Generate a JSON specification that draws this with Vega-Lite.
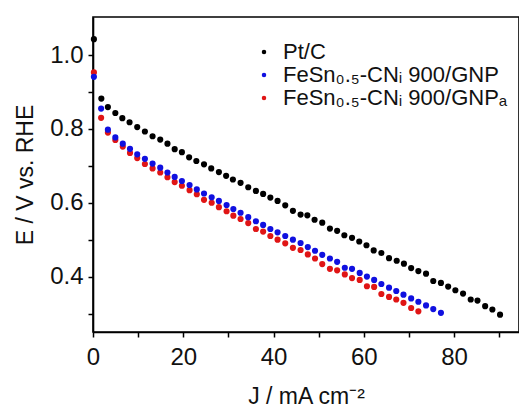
{
  "$schema": "https://vega.github.io/schema/vega-lite/v6.json",
  "width": 426,
  "height": 315,
  "autosize": {"type": "none"},
  "padding": {"left": 93, "top": 17, "right": 0, "bottom": 78},
  "background": "white",
  "config": {
    "font": "Liberation Sans",
    "view": {"stroke": "black", "strokeWidth": 1.6},
    "axis": {
      "domainColor": "black", "domainWidth": 1.6, "tickColor": "black", "tickWidth": 1.5, "tickSize": 5,
      "labelFont": "Liberation Sans", "labelFontSize": 24, "labelColor": "#111", "grid": false,
      "titleFont": "Liberation Sans", "titleFontSize": 23, "titleFontWeight": "normal", "titleColor": "#111"
    },
    "legend": {"labelFont": "Liberation Sans", "labelFontSize": 22, "labelColor": "#111", "labelLimit": 0}
  },
  "datasets": {
    "pts": [
      {"s":"Pt/C","J":0.2,"E":1.043},{"s":"Pt/C","J":1.85,"E":0.882},{"s":"Pt/C","J":3.3,"E":0.859},{"s":"Pt/C","J":4.95,"E":0.843},{"s":"Pt/C","J":6.5,"E":0.829},{"s":"Pt/C","J":8.1,"E":0.818},{"s":"Pt/C","J":9.8,"E":0.805},{"s":"Pt/C","J":11.5,"E":0.793},{"s":"Pt/C","J":13.2,"E":0.78},{"s":"Pt/C","J":14.9,"E":0.771},{"s":"Pt/C","J":16.5,"E":0.76},{"s":"Pt/C","J":18.1,"E":0.745},{"s":"Pt/C","J":19.7,"E":0.737},{"s":"Pt/C","J":21.3,"E":0.723},{"s":"Pt/C","J":22.9,"E":0.713},{"s":"Pt/C","J":24.6,"E":0.704},{"s":"Pt/C","J":26.2,"E":0.693},{"s":"Pt/C","J":27.9,"E":0.683},{"s":"Pt/C","J":29.5,"E":0.673},{"s":"Pt/C","J":31.0,"E":0.663},{"s":"Pt/C","J":32.7,"E":0.654},{"s":"Pt/C","J":34.4,"E":0.642},{"s":"Pt/C","J":36.1,"E":0.632},{"s":"Pt/C","J":37.7,"E":0.624},{"s":"Pt/C","J":39.3,"E":0.614},{"s":"Pt/C","J":40.9,"E":0.605},{"s":"Pt/C","J":42.6,"E":0.593},{"s":"Pt/C","J":44.3,"E":0.578},{"s":"Pt/C","J":46.0,"E":0.568},{"s":"Pt/C","J":47.5,"E":0.566},{"s":"Pt/C","J":49.1,"E":0.554},{"s":"Pt/C","J":50.8,"E":0.546},{"s":"Pt/C","J":52.5,"E":0.53},{"s":"Pt/C","J":54.1,"E":0.524},{"s":"Pt/C","J":55.7,"E":0.512},{"s":"Pt/C","J":57.4,"E":0.505},{"s":"Pt/C","J":59.0,"E":0.495},{"s":"Pt/C","J":60.6,"E":0.485},{"s":"Pt/C","J":62.2,"E":0.471},{"s":"Pt/C","J":63.9,"E":0.464},{"s":"Pt/C","J":65.6,"E":0.45},{"s":"Pt/C","J":67.3,"E":0.443},{"s":"Pt/C","J":68.9,"E":0.435},{"s":"Pt/C","J":70.5,"E":0.423},{"s":"Pt/C","J":72.1,"E":0.415},{"s":"Pt/C","J":73.8,"E":0.408},{"s":"Pt/C","J":75.4,"E":0.388},{"s":"Pt/C","J":77.1,"E":0.383},{"s":"Pt/C","J":78.7,"E":0.373},{"s":"Pt/C","J":80.3,"E":0.363},{"s":"Pt/C","J":82.0,"E":0.354},{"s":"Pt/C","J":83.7,"E":0.338},{"s":"Pt/C","J":85.2,"E":0.335},{"s":"Pt/C","J":86.9,"E":0.32},{"s":"Pt/C","J":88.5,"E":0.311},{"s":"Pt/C","J":90.2,"E":0.297},
      {"s":"FeSn₀.₅-CNᵢ 900/GNPₐ","J":0.2,"E":0.953},{"s":"FeSn₀.₅-CNᵢ 900/GNPₐ","J":1.8,"E":0.83},{"s":"FeSn₀.₅-CNᵢ 900/GNPₐ","J":3.3,"E":0.79},{"s":"FeSn₀.₅-CNᵢ 900/GNPₐ","J":4.95,"E":0.77},{"s":"FeSn₀.₅-CNᵢ 900/GNPₐ","J":6.6,"E":0.752},{"s":"FeSn₀.₅-CNᵢ 900/GNPₐ","J":8.2,"E":0.735},{"s":"FeSn₀.₅-CNᵢ 900/GNPₐ","J":9.8,"E":0.721},{"s":"FeSn₀.₅-CNᵢ 900/GNPₐ","J":11.5,"E":0.705},{"s":"FeSn₀.₅-CNᵢ 900/GNPₐ","J":13.2,"E":0.693},{"s":"FeSn₀.₅-CNᵢ 900/GNPₐ","J":14.9,"E":0.682},{"s":"FeSn₀.₅-CNᵢ 900/GNPₐ","J":16.5,"E":0.669},{"s":"FeSn₀.₅-CNᵢ 900/GNPₐ","J":18.1,"E":0.656},{"s":"FeSn₀.₅-CNᵢ 900/GNPₐ","J":19.7,"E":0.646},{"s":"FeSn₀.₅-CNᵢ 900/GNPₐ","J":21.4,"E":0.634},{"s":"FeSn₀.₅-CNᵢ 900/GNPₐ","J":23.0,"E":0.623},{"s":"FeSn₀.₅-CNᵢ 900/GNPₐ","J":24.6,"E":0.608},{"s":"FeSn₀.₅-CNᵢ 900/GNPₐ","J":26.3,"E":0.6},{"s":"FeSn₀.₅-CNᵢ 900/GNPₐ","J":27.9,"E":0.588},{"s":"FeSn₀.₅-CNᵢ 900/GNPₐ","J":29.6,"E":0.577},{"s":"FeSn₀.₅-CNᵢ 900/GNPₐ","J":31.1,"E":0.565},{"s":"FeSn₀.₅-CNᵢ 900/GNPₐ","J":32.7,"E":0.556},{"s":"FeSn₀.₅-CNᵢ 900/GNPₐ","J":34.4,"E":0.545},{"s":"FeSn₀.₅-CNᵢ 900/GNPₐ","J":36.1,"E":0.529},{"s":"FeSn₀.₅-CNᵢ 900/GNPₐ","J":37.7,"E":0.522},{"s":"FeSn₀.₅-CNᵢ 900/GNPₐ","J":39.3,"E":0.51},{"s":"FeSn₀.₅-CNᵢ 900/GNPₐ","J":40.9,"E":0.5},{"s":"FeSn₀.₅-CNᵢ 900/GNPₐ","J":42.6,"E":0.49},{"s":"FeSn₀.₅-CNᵢ 900/GNPₐ","J":44.3,"E":0.478},{"s":"FeSn₀.₅-CNᵢ 900/GNPₐ","J":46.0,"E":0.472},{"s":"FeSn₀.₅-CNᵢ 900/GNPₐ","J":47.6,"E":0.46},{"s":"FeSn₀.₅-CNᵢ 900/GNPₐ","J":49.2,"E":0.449},{"s":"FeSn₀.₅-CNᵢ 900/GNPₐ","J":50.8,"E":0.434},{"s":"FeSn₀.₅-CNᵢ 900/GNPₐ","J":52.5,"E":0.421},{"s":"FeSn₀.₅-CNᵢ 900/GNPₐ","J":54.1,"E":0.417},{"s":"FeSn₀.₅-CNᵢ 900/GNPₐ","J":55.8,"E":0.406},{"s":"FeSn₀.₅-CNᵢ 900/GNPₐ","J":57.4,"E":0.396},{"s":"FeSn₀.₅-CNᵢ 900/GNPₐ","J":59.1,"E":0.391},{"s":"FeSn₀.₅-CNᵢ 900/GNPₐ","J":60.7,"E":0.374},{"s":"FeSn₀.₅-CNᵢ 900/GNPₐ","J":62.3,"E":0.372},{"s":"FeSn₀.₅-CNᵢ 900/GNPₐ","J":63.9,"E":0.353},{"s":"FeSn₀.₅-CNᵢ 900/GNPₐ","J":65.6,"E":0.345},{"s":"FeSn₀.₅-CNᵢ 900/GNPₐ","J":67.2,"E":0.338},{"s":"FeSn₀.₅-CNᵢ 900/GNPₐ","J":68.8,"E":0.329},{"s":"FeSn₀.₅-CNᵢ 900/GNPₐ","J":70.5,"E":0.315},{"s":"FeSn₀.₅-CNᵢ 900/GNPₐ","J":72.1,"E":0.306},
      {"s":"FeSn₀.₅-CNᵢ 900/GNP","J":0.2,"E":0.941},{"s":"FeSn₀.₅-CNᵢ 900/GNP","J":1.8,"E":0.855},{"s":"FeSn₀.₅-CNᵢ 900/GNP","J":3.3,"E":0.798},{"s":"FeSn₀.₅-CNᵢ 900/GNP","J":4.95,"E":0.777},{"s":"FeSn₀.₅-CNᵢ 900/GNP","J":6.6,"E":0.76},{"s":"FeSn₀.₅-CNᵢ 900/GNP","J":8.2,"E":0.746},{"s":"FeSn₀.₅-CNᵢ 900/GNP","J":9.8,"E":0.731},{"s":"FeSn₀.₅-CNᵢ 900/GNP","J":11.5,"E":0.719},{"s":"FeSn₀.₅-CNᵢ 900/GNP","J":13.2,"E":0.706},{"s":"FeSn₀.₅-CNᵢ 900/GNP","J":14.9,"E":0.695},{"s":"FeSn₀.₅-CNᵢ 900/GNP","J":16.5,"E":0.682},{"s":"FeSn₀.₅-CNᵢ 900/GNP","J":18.1,"E":0.67},{"s":"FeSn₀.₅-CNᵢ 900/GNP","J":19.7,"E":0.659},{"s":"FeSn₀.₅-CNᵢ 900/GNP","J":21.4,"E":0.648},{"s":"FeSn₀.₅-CNᵢ 900/GNP","J":23.0,"E":0.636},{"s":"FeSn₀.₅-CNᵢ 900/GNP","J":24.6,"E":0.625},{"s":"FeSn₀.₅-CNᵢ 900/GNP","J":26.3,"E":0.615},{"s":"FeSn₀.₅-CNᵢ 900/GNP","J":27.9,"E":0.605},{"s":"FeSn₀.₅-CNᵢ 900/GNP","J":29.6,"E":0.594},{"s":"FeSn₀.₅-CNᵢ 900/GNP","J":31.1,"E":0.583},{"s":"FeSn₀.₅-CNᵢ 900/GNP","J":32.7,"E":0.573},{"s":"FeSn₀.₅-CNᵢ 900/GNP","J":34.4,"E":0.561},{"s":"FeSn₀.₅-CNᵢ 900/GNP","J":36.1,"E":0.55},{"s":"FeSn₀.₅-CNᵢ 900/GNP","J":37.7,"E":0.54},{"s":"FeSn₀.₅-CNᵢ 900/GNP","J":39.3,"E":0.529},{"s":"FeSn₀.₅-CNᵢ 900/GNP","J":40.9,"E":0.52},{"s":"FeSn₀.₅-CNᵢ 900/GNP","J":42.6,"E":0.51},{"s":"FeSn₀.₅-CNᵢ 900/GNP","J":44.3,"E":0.5},{"s":"FeSn₀.₅-CNᵢ 900/GNP","J":46.0,"E":0.491},{"s":"FeSn₀.₅-CNᵢ 900/GNP","J":47.6,"E":0.48},{"s":"FeSn₀.₅-CNᵢ 900/GNP","J":49.2,"E":0.47},{"s":"FeSn₀.₅-CNᵢ 900/GNP","J":50.8,"E":0.459},{"s":"FeSn₀.₅-CNᵢ 900/GNP","J":52.5,"E":0.449},{"s":"FeSn₀.₅-CNᵢ 900/GNP","J":54.1,"E":0.44},{"s":"FeSn₀.₅-CNᵢ 900/GNP","J":55.8,"E":0.424},{"s":"FeSn₀.₅-CNᵢ 900/GNP","J":57.4,"E":0.421},{"s":"FeSn₀.₅-CNᵢ 900/GNP","J":59.1,"E":0.41},{"s":"FeSn₀.₅-CNᵢ 900/GNP","J":60.7,"E":0.4},{"s":"FeSn₀.₅-CNᵢ 900/GNP","J":62.3,"E":0.391},{"s":"FeSn₀.₅-CNᵢ 900/GNP","J":63.9,"E":0.38},{"s":"FeSn₀.₅-CNᵢ 900/GNP","J":65.6,"E":0.37},{"s":"FeSn₀.₅-CNᵢ 900/GNP","J":67.2,"E":0.361},{"s":"FeSn₀.₅-CNᵢ 900/GNP","J":68.8,"E":0.351},{"s":"FeSn₀.₅-CNᵢ 900/GNP","J":70.5,"E":0.341},{"s":"FeSn₀.₅-CNᵢ 900/GNP","J":72.1,"E":0.332},{"s":"FeSn₀.₅-CNᵢ 900/GNP","J":73.8,"E":0.322},{"s":"FeSn₀.₅-CNᵢ 900/GNP","J":75.4,"E":0.312},{"s":"FeSn₀.₅-CNᵢ 900/GNP","J":77.1,"E":0.302}
    ]
  },
  "data": {"name": "pts"},
  "mark": {"type": "circle", "size": 38, "opacity": 1},
  "encoding": {
    "x": {
      "field": "J", "type": "quantitative",
      "scale": {"domain": [0, 94.4], "nice": false, "zero": false},
      "axis": {
        "title": "J / mA cm⁻²",
        "values": [0, 10, 20, 30, 40, 50, 60, 70, 80, 90],
        "labelExpr": "(round(datum.value) % 20 == 0) ? format(datum.value, 'd') : ''",
        "labelPadding": 8, "titlePadding": 16, "labelFlush": false, "labelOverlap": false
      }
    },
    "y": {
      "field": "E", "type": "quantitative",
      "scale": {"domain": [0.25, 1.103], "nice": false, "zero": false},
      "axis": {
        "title": "E / V vs. RHE",
        "values": [0.3, 0.4, 0.5, 0.6, 0.7, 0.8, 0.9, 1.0],
        "labelExpr": "(round(datum.value * 10) % 2 == 0) ? format(datum.value, '.1f') : ''",
        "labelPadding": 5, "titlePadding": 12, "labelFlush": false, "labelOverlap": false
      }
    },
    "color": {
      "field": "s", "type": "nominal",
      "scale": {
        "domain": ["Pt/C", "FeSn₀.₅-CNᵢ 900/GNP", "FeSn₀.₅-CNᵢ 900/GNPₐ"],
        "range": ["#000000", "#1010e0", "#e01515"]
      },
      "legend": {
        "title": null, "orient": "none", "legendX": 160, "legendY": 24,
        "symbolType": "circle", "symbolSize": 20, "symbolOpacity": 1, "rowPadding": 1, "labelOffset": 8
      }
    }
  }
}
